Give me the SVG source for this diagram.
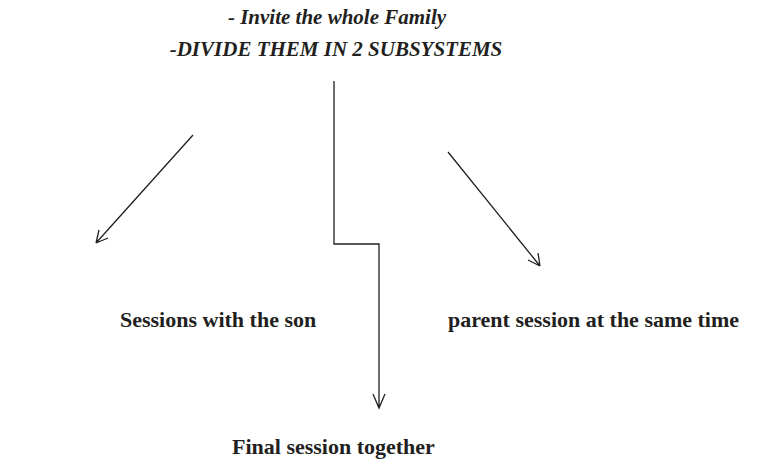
<svg xmlns="http://www.w3.org/2000/svg" width="776" height="461" viewBox="0 0 776 461">
<style>
.h{font-family:"Liberation Serif","Times New Roman",serif;font-weight:bold;font-style:italic;font-size:21px;fill:#231f20;text-anchor:middle}
.l{font-family:"Liberation Serif","Times New Roman",serif;font-weight:bold;font-size:22px;fill:#231f20}
.c{fill:none;stroke:#231f20;stroke-width:1.3}
</style>
<rect width="776" height="461" fill="#fff"/>
<g id="title">
<text class="h" x="337" y="24">- Invite the whole Family</text>
<text class="h" x="336" y="56">-DIVIDE THEM IN 2 SUBSYSTEMS</text>
</g>
<g id="connectors">
<path class="c" d="M193,135 L96,243 M96,243 L99,230 M96,243 L108,238"/>
<path class="c" d="M334,81 L334,244 L379,244 L379,408 M373,394 L379,408 L385,394"/>
<path class="c" d="M448,152 L540,266 M540,266 L528,260 M540,266 L538,253"/>
</g>
<g id="son"><text class="l" x="120" y="327">Sessions with the son</text></g>
<g id="parent"><text class="l" x="448" y="327">parent session at the same time</text></g>
<g id="final"><text class="l" x="232" y="454">Final session together</text></g>
</svg>
